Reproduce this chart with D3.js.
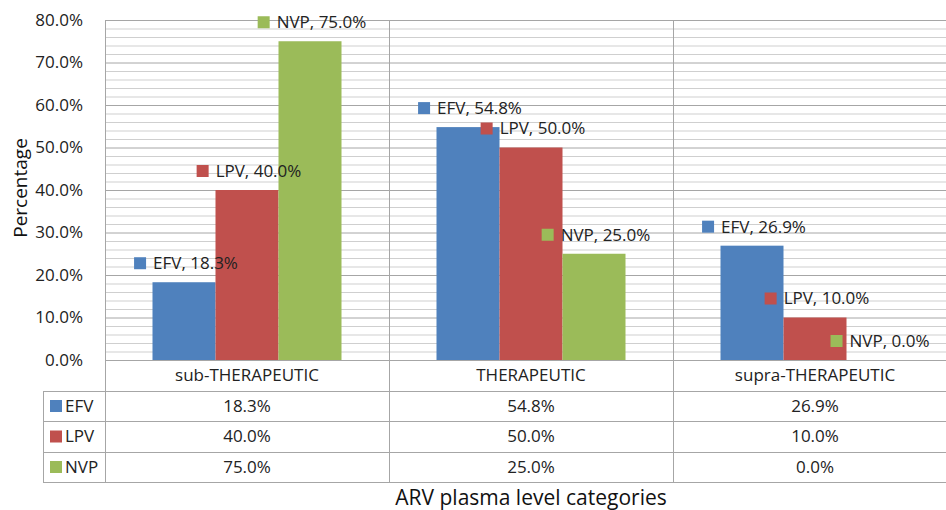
<!DOCTYPE html>
<html>
<head>
<meta charset="utf-8">
<script src="https://cdn.jsdelivr.net/npm/d3@7"></script>
<style>
  html, body { margin: 0; padding: 0; background: #fff; overflow: hidden; }
  svg { display: block; font-family: "Open Sans", sans-serif; }
</style>
</head>
<body>
<svg id="chart" width="946" height="510"></svg>
<script>
const categories = ["sub-THERAPEUTIC", "THERAPEUTIC", "supra-THERAPEUTIC"];
const series = ["EFV", "LPV", "NVP"];
const efvValues = [18.3, 54.8, 26.9];
const lpvValues = [40.0, 50.0, 10.0];
const nvpValues = [75.0, 25.0, 0.0];
const yTicks = [0, 10, 20, 30, 40, 50, 60, 70, 80];
const colors = ["#4f81bd", "#c0504d", "#9bbb59"];

const valuesBySeries = [efvValues, lpvValues, nvpValues];
const data = categories.flatMap((cat, ci) =>
  series.map((s, si) => ({ cat, s, si, value: valuesBySeries[si][ci] }))
);

const svg = d3.select("#chart");
const plotLeft = 105, plotRight = 957, plotTop = 20, plotBottom = 360;
const tableLeft = 43;
const rowY = [360, 391, 421, 452, 482];

const x0 = d3.scaleBand().domain(categories).range([plotLeft, plotRight]);
const x1 = d3.scaleBand().domain(series).range([47.5, x0.bandwidth() - 47.5]);
const y = d3.scaleLinear().domain([0, 80]).range([plotBottom, plotTop]);
const color = d3.scaleOrdinal().domain(series).range(colors);

// gridlines: minor every 2%, major every 10%
const grid = svg.append("g");
grid.selectAll("line.minor")
  .data(d3.range(0, 81, 2).filter((v) => v % 10 !== 0))
  .join("line")
  .attr("x1", plotLeft).attr("x2", plotRight)
  .attr("y1", (d) => y(d) + 0.5).attr("y2", (d) => y(d) + 0.5)
  .attr("stroke", "#cfcfcf").attr("stroke-width", 1);
grid.selectAll("line.major")
  .data(yTicks)
  .join("line")
  .attr("x1", plotLeft).attr("x2", plotRight)
  .attr("y1", (d) => y(d) + 0.5).attr("y2", (d) => y(d) + 0.5)
  .attr("stroke", "#a6a6a6").attr("stroke-width", 1);

// y axis labels
const yAxis = svg.append("g").attr("transform", `translate(${plotLeft},0)`)
  .call(d3.axisLeft(y).tickValues(yTicks).tickSize(0).tickPadding(22).tickFormat((d) => d.toFixed(1) + "%"));
yAxis.select(".domain").remove();
yAxis.selectAll("text").attr("font-size", "17px").attr("fill", "#222").attr("font-family", "Open Sans, sans-serif");

svg.append("text")
  .attr("transform", `translate(27,188) rotate(-90)`)
  .attr("text-anchor", "middle")
  .attr("font-size", "19px")
  .attr("fill", "#111")
  .text("Percentage");

// bars
svg.append("g").selectAll("rect")
  .data(data)
  .join("rect")
  .attr("x", (d) => x0(d.cat) + x1(d.s))
  .attr("width", x1.bandwidth())
  .attr("y", (d) => y(d.value))
  .attr("height", (d) => y(0) - y(d.value))
  .attr("fill", (d) => color(d.s));

// table lines
const lines = svg.append("g").attr("stroke", "#a6a6a6").attr("stroke-width", 1);
lines.append("line").attr("x1", plotLeft).attr("x2", plotRight).attr("y1", rowY[0] + 0.5).attr("y2", rowY[0] + 0.5);
rowY.slice(1).forEach((ry) => {
  lines.append("line").attr("x1", tableLeft).attr("x2", plotRight).attr("y1", ry + 0.5).attr("y2", ry + 0.5);
});
lines.append("line").attr("x1", tableLeft + 0.5).attr("x2", tableLeft + 0.5).attr("y1", rowY[1]).attr("y2", rowY[4]);
[...categories.map((c) => x0(c)), plotRight].forEach((vx) => {
  lines.append("line").attr("x1", vx + 0.5).attr("x2", vx + 0.5).attr("y1", plotTop).attr("y2", rowY[4]);
});
lines.append("line").attr("x1", plotLeft).attr("x2", plotRight).attr("y1", plotTop + 0.5).attr("y2", plotTop + 0.5);

// category labels
svg.append("g").selectAll("text")
  .data(categories)
  .join("text")
  .attr("x", (d) => x0(d) + x0.bandwidth() / 2)
  .attr("y", (rowY[0] + rowY[1]) / 2)
  .attr("dy", "0.35em")
  .attr("text-anchor", "middle")
  .attr("font-size", "17px")
  .attr("fill", "#222")
  .text((d) => d);

// table rows
series.forEach((s, si) => {
  const cy = (rowY[si + 1] + rowY[si + 2]) / 2;
  svg.append("rect").attr("x", 50).attr("y", cy - 6).attr("width", 12).attr("height", 12).attr("fill", color(s));
  svg.append("text").attr("x", 65).attr("y", cy).attr("dy", "0.35em")
    .attr("font-size", "17px").attr("fill", "#222").text(s);
  svg.append("g").selectAll("text")
    .data(categories)
    .join("text")
    .attr("x", (d) => x0(d) + x0.bandwidth() / 2)
    .attr("y", cy)
    .attr("dy", "0.35em")
    .attr("text-anchor", "middle")
    .attr("font-size", "17px")
    .attr("fill", "#222")
    .text((d, ci) => valuesBySeries[si][ci].toFixed(1) + "%");
});

// data labels
const labels = svg.append("g").selectAll("g")
  .data(data)
  .join("g");
labels.append("rect")
  .attr("width", 12).attr("height", 12).attr("y", -6)
  .attr("fill", (d) => color(d.s));
labels.append("text")
  .attr("x", 19)
  .attr("dy", "0.35em")
  .attr("font-size", "17px")
  .attr("fill", "#222")
  .text((d) => `${d.s}, ${d.value.toFixed(1)}%`);
labels.attr("transform", function (d) {
  const w = 19 + d3.select(this).select("text").node().getComputedTextLength();
  const cx = x0(d.cat) + x1(d.s) + x1.bandwidth() / 2 + 2;
  return `translate(${cx - w / 2},${y(d.value) - 19})`;
});

svg.append("text")
  .attr("x", (plotLeft + plotRight) / 2)
  .attr("y", 505)
  .attr("text-anchor", "middle")
  .attr("font-size", "21px")
  .attr("fill", "#111")
  .text("ARV plasma level categories");
</script>
</body>
</html>
